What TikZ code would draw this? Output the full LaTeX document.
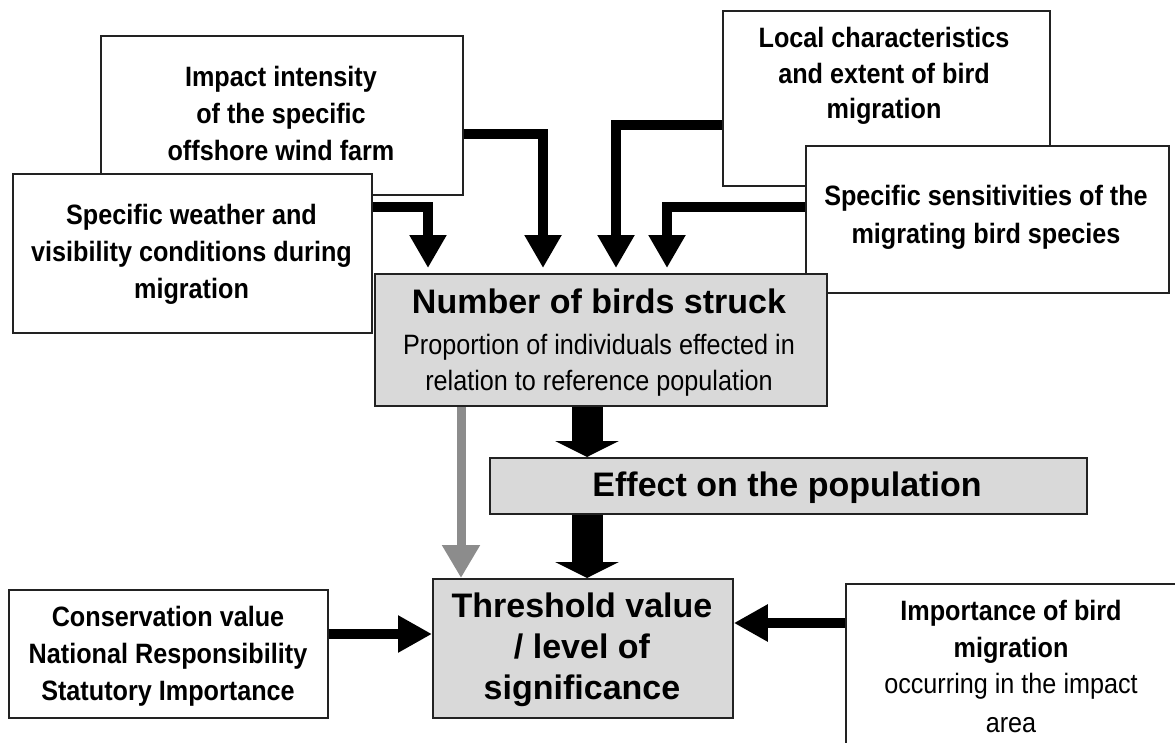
\documentclass[tikz,border=0pt]{standalone}
\usepackage{fontspec}
\setmainfont{Liberation Sans}
\newfontfamily\condf[FakeStretch=0.9]{Liberation Sans}
\usetikzlibrary{arrows.meta}
\definecolor{boxgray}{HTML}{D9D9D9}
\definecolor{arrgray}{HTML}{8C8C8C}
\definecolor{edgecol}{HTML}{222222}
\newcommand{\ls}{\strut}
\begin{document}
\begin{tikzpicture}[x=1pt,y=-1pt,
  box/.style={draw=edgecol, line width=1.8pt, fill=white, inner sep=0pt, anchor=north west},
  graybox/.style={box, fill=boxgray},
  lbl/.style={inner sep=0pt, align=center, text=black},
  smallbold/.style={lbl, font=\condf\bfseries\fontsize{28}{37}\selectfont},
  smalllight/.style={lbl, font=\condf\fontsize{28}{36}\selectfont},
  bigbold/.style={lbl, font=\bfseries\fontsize{34}{41}\selectfont},
  inarrow/.style={line width=9.5pt, line join=miter, line cap=butt, shorten >=5pt,
    -{Triangle[width=35pt,length=33pt]}},
  grayarrow/.style={arrgray, line width=9pt, line cap=butt,
    -{Triangle[width=36pt,length=33pt]}},
  fatarrow/.style={line width=31pt, line cap=butt,
    -{Triangle[width=63pt,length=16pt]}},
  sidearrow/.style={line width=9.5pt, line cap=butt,
    -{Triangle[width=35pt,length=34pt]}}
]
\useasboundingbox (0,0) rectangle (1175,742);
\clip (0,0) rectangle (1175,742);

% upper input boxes
\node[box, minimum width=362pt, minimum height=159pt] (impact) at (100,35) {};
\node[smallbold] (impacttxt) at (281,116) {\ls Impact intensity\\\ls of the specific\\\ls offshore wind farm};
\node[box, minimum width=359pt, minimum height=159pt] (weather) at (12,173) {};
\node[smallbold] (weathertxt) at (191.5,253.6) {\ls Specific weather and\\\ls visibility conditions during\\\ls migration};

\node[box, minimum width=327pt, minimum height=175pt] (local) at (722,10) {};
\node[smallbold, font=\condf\bfseries\fontsize{28}{35.5}\selectfont] (localtxt) at (884,75.9) {\ls Local characteristics\\\ls and extent of bird\\\ls migration};
\node[box, minimum width=363pt, minimum height=147pt] (sens) at (805,145) {};
\node[smallbold, font=\condf\bfseries\fontsize{28}{38}\selectfont] (senstxt) at (986,216.4) {\ls Specific sensitivities of the\\\ls migrating bird species};

% input arrows
\draw[inarrow] (weather.east |- 0,207) -| (428,273);
\draw[inarrow] (impact.east |- 0,134) -| (543,273);
\draw[inarrow] (local.west |- 0,125) -| (616,273);
\draw[inarrow] (sens.west |- 0,207) -| (667,273);

% central boxes
\node[graybox, minimum width=452pt, minimum height=132pt] (number) at (374,273) {};
\node[bigbold, anchor=base] (numbertitle) at (599,313) {Number of birds struck};
\node[smalllight] (numbersub) at (599,364.8) {\ls Proportion of individuals effected in\\\ls relation to reference population};

\node[graybox, minimum width=597pt, minimum height=56pt] (effect) at (489,457) {};
\node[bigbold, anchor=base] (effecttxt) at (787,496) {Effect on the population};

\node[graybox, minimum width=300pt, minimum height=139pt] (thresh) at (432,578) {};
\node[bigbold] (threshtxt) at (582,649.8) {\ls Threshold value\\\ls / level of\\\ls significance};

% lower side boxes
\node[box, minimum width=319pt, minimum height=128pt] (cons) at (8,589) {};
\node[smallbold] (constxt) at (168,656.1) {\ls Conservation value\\\ls National Responsibility\\\ls Statutory Importance};

\node[box, minimum width=332pt, minimum height=180pt] (imp) at (845,583) {};
\node[smallbold] (imptxt1) at (1011,631.1) {\ls Importance of bird\\\ls migration};
\node[smalllight, font=\condf\fontsize{28}{39}\selectfont] (imptxt2) at (1011,704.7) {\ls occurring in the impact\\\ls area};

% connecting arrows
\draw[grayarrow] (number.south -| 461,0) -- (thresh.north -| 461,0);
\draw[fatarrow] (number.south -| 587,0) -- (effect.north -| 587,0);
\draw[fatarrow] (effect.south -| 587,0) -- (thresh.north -| 587,0);
\draw[sidearrow] (cons.east |- 0,634) -- (thresh.west |- 0,634);
\draw[sidearrow] (imp.west |- 0,623) -- (thresh.east |- 0,623);
\end{tikzpicture}
\end{document}
